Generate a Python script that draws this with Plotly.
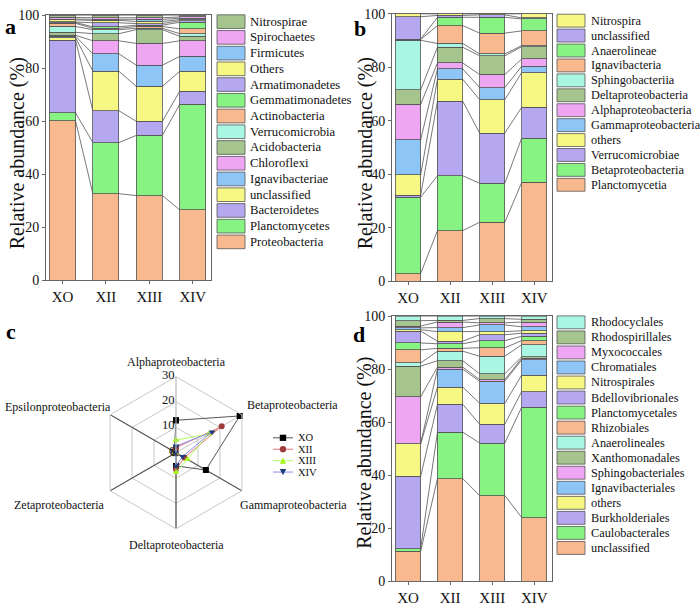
import plotly.graph_objects as go

# ---------------- data ----------------
samples = ["XO", "XII", "XIII", "XIV"]

a_taxa = ["Proteobacteria", "Planctomycetes", "Bacteroidetes", "unclassified", "Ignavibacteriae",
          "Chloroflexi", "Acidobacteria", "Verrucomicrobia", "Actinobacteria", "Gemmatimonadetes",
          "Armatimonadetes", "Others", "Firmicutes", "Spirochaetes", "Nitrospirae"]
a_XO = [60.1, 3.0, 27.5, 0.9, 0.5, 0.4, 1.1, 2.2, 1.2, 0.3, 0.2, 0.8, 0.3, 0.6, 0.9]
a_XII = [32.6, 19.3, 12.0, 14.9, 6.6, 4.9, 2.7, 1.5, 0.5, 0.6, 1.5, 0.9, 0.4, 0.6, 1.0]
a_XIII = [31.9, 22.7, 5.3, 13.2, 8.0, 8.2, 5.2, 0.5, 0.7, 0.5, 0.6, 0.8, 0.8, 0.6, 1.0]
a_XIV = [26.5, 39.8, 5.0, 7.5, 5.6, 5.9, 1.7, 1.0, 1.8, 2.5, 0.6, 0.4, 0.5, 0.5, 0.7]

b_taxa = ["Planctomycetia", "Betaproteobacteria", "Verrucomicrobiae", "others", "Gammaproteobacteria",
          "Alphaproteobacteria", "Deltaproteobacteria", "Sphingobacteriia", "Ignavibacteria",
          "Anaerolineae", "unclassified", "Nitrospira"]
b_XO = [2.8, 28.6, 0.7, 7.6, 13.1, 13.3, 5.4, 18.6, 0.3, 0.1, 8.4, 1.1]
b_XII = [18.9, 20.5, 27.9, 8.2, 3.9, 2.2, 5.9, 1.4, 6.7, 3.1, 0.7, 0.6]
b_XIII = [22.0, 14.6, 18.8, 12.5, 4.5, 4.9, 7.0, 0.7, 7.8, 5.9, 0.9, 0.4]
b_XIV = [36.9, 16.6, 11.5, 13.0, 2.4, 2.7, 4.6, 0.4, 5.5, 4.5, 0.4, 1.5]

d_taxa = ["unclassified", "Caulobacterales", "Burkholderiales", "others", "Ignavibacteriales",
          "Sphingobacteriales", "Xanthomonadales", "Anaerolineales", "Rhizobiales", "Planctomycetales",
          "Bdellovibrionales", "Nitrospirales", "Chromatiales", "Myxococcales", "Rhodospirillales",
          "Rhodocyclales"]
d_XO = [11.4, 1.0, 27.2, 12.3, 0.1, 17.6, 11.6, 1.2, 4.9, 2.6, 4.5, 0.5, 0.7, 0.7, 2.0, 1.7]
d_XII = [38.8, 17.5, 10.5, 6.5, 6.7, 0.8, 2.4, 3.6, 1.1, 1.7, 1.0, 3.6, 1.5, 2.1, 0.6, 1.6]
d_XIII = [32.4, 19.8, 7.1, 7.9, 8.3, 0.6, 2.2, 6.6, 3.2, 2.7, 2.2, 1.2, 2.5, 0.8, 1.6, 0.9]
d_XIV = [24.1, 41.6, 5.9, 6.2, 5.7, 0.6, 0.6, 4.5, 1.6, 1.6, 1.2, 0.9, 1.5, 1.8, 1.0, 1.2]

c_axes = ["Alphaproteobacteria", "Betaproteobacteria", "Gammaproteobacteria",
          "Deltaproteobacteria", "Zetaproteobacteria", "Epsilonproteobacteria"]
c_XO = [12.8, 29.0, 13.6, 5.2, 0.3, 0.8]
c_XII = [2.0, 20.8, 3.8, 6.5, 0.2, 0.5]
c_XIII = [5.0, 14.8, 5.2, 7.8, 0.2, 0.4]
c_XIV = [2.6, 16.4, 3.0, 5.2, 0.2, 0.4]
c_ticks = [0, 10, 20, 30]
c_dark_axes = ["Gammaproteobacteria", "Deltaproteobacteria", "Zetaproteobacteria", "Epsilonproteobacteria"]

y_ticks = [0, 20, 40, 60, 80, 100]

# ---------------- styles ----------------
palette = ["#F9B98E", "#86F383", "#B5A7F0", "#F7F783", "#8EC5F7", "#EEA5F2", "#A5C48E", "#A9F7E3"]
edge = "#555555"
FONT = "Liberation Serif, Times New Roman, serif"
W, H = 700, 609
BAR_W = 0.6


def px(x):
    return x / W


def py(y):
    return 1 - y / H


fig = go.Figure()

panels = [
    (a_taxa, [a_XO, a_XII, a_XIII, a_XIV], "x", "y", (46, 211), (8.3, 280),
     dict(x0=217, x1=245, tx=248, y0=15.0, dy=16.13, hh=7.0, fs=12.7)),
    (b_taxa, [b_XO, b_XII, b_XIII, b_XIV], "x2", "y2", (392, 552), (7, 281),
     dict(x0=557, x1=585, tx=588.5, y0=14.0, dy=15.3, hh=6.6, fs=12.3)),
    (d_taxa, [d_XO, d_XII, d_XIII, d_XIV], "x3", "y3", (392, 552), (317, 589),
     dict(x0=557, x1=585, tx=588.5, y0=323.3, dy=15.42, hh=6.6, fs=12.3)),
]

shapes = []
annotations = []
xpos = list(range(len(samples)))

for pi, (taxa, per_sample, xa, ya, xd, yd, lg) in enumerate(panels):
    n = len(taxa)
    for j in range(n):
        fig.add_trace(go.Bar(
            x=xpos, y=[per_sample[s][j] for s in range(len(samples))],
            width=BAR_W, name=taxa[j], xaxis=xa, yaxis=ya, showlegend=False,
            marker=dict(color=palette[j % 8], line=dict(color=edge, width=0.8)),
        ))
    lx, ly = [], []
    cum = [[0.0] * len(samples) for _ in range(n)]
    for s in range(len(samples)):
        acc = 0.0
        for j in range(n):
            acc += per_sample[s][j]
            cum[j][s] = acc
    for j in range(n):
        for s in range(len(samples) - 1):
            lx += [xpos[s] + BAR_W / 2, xpos[s + 1] - BAR_W / 2, None]
            ly += [cum[j][s], cum[j][s + 1], None]
    fig.add_trace(go.Scatter(x=lx, y=ly, mode="lines", xaxis=xa, yaxis=ya, showlegend=False,
                             line=dict(color=edge, width=0.8), hoverinfo="skip"))
    for k, j in enumerate(reversed(range(n))):
        yc = lg["y0"] + k * lg["dy"]
        shapes.append(dict(type="rect", xref="paper", yref="paper",
                           x0=px(lg["x0"]), x1=px(lg["x1"]),
                           y0=py(yc + lg["hh"]), y1=py(yc - lg["hh"]),
                           fillcolor=palette[j % 8], line=dict(color=edge, width=0.8)))
        annotations.append(dict(xref="paper", yref="paper", x=px(lg["tx"]), y=py(yc),
                                xanchor="left", yanchor="middle", showarrow=False,
                                text=taxa[j], font=dict(family=FONT, size=lg["fs"], color="#111")))

axis_common = dict(showline=True, mirror=True, linecolor="#666666", linewidth=1,
                   ticks="outside", ticklen=3, tickcolor="#666666", showgrid=False, zeroline=False)
layout_axes = {}
for pi, (taxa, per_sample, xa, ya, xd, yd, lg) in enumerate(panels):
    xk = "xaxis" if xa == "x" else "xaxis" + xa[1:]
    yk = "yaxis" if ya == "y" else "yaxis" + ya[1:]
    layout_axes[xk] = dict(axis_common, domain=[px(xd[0]), px(xd[1])], anchor=ya,
                           range=[-0.38, 3.42], tickvals=xpos, ticktext=samples,
                           tickfont=dict(family=FONT, size=15, color="#111"))
    layout_axes[yk] = dict(axis_common, domain=[py(yd[1]), py(yd[0])], anchor=xa,
                           range=[0, 100], tickvals=y_ticks,
                           tickfont=dict(family=FONT, size=14, color="#111"))

for (xc, yc) in [(17, 150), (365, 150), (365, 457)]:
    annotations.append(dict(xref="paper", yref="paper", x=px(xc), y=py(yc), textangle=-90,
                            xanchor="center", yanchor="middle", showarrow=False,
                            text="Relative abundance (%)", font=dict(family=FONT, size=20, color="#111")))

for (lab, xc, yc) in [("a", 10, 20), ("b", 360, 22), ("c", 11, 333), ("d", 359, 336)]:
    annotations.append(dict(xref="paper", yref="paper", x=px(xc), y=py(yc),
                            xanchor="center", yanchor="middle", showarrow=False,
                            text="<b>%s</b>" % lab, font=dict(family=FONT, size=22, color="#000")))

# ---------------- radar (c) ----------------
for cat in c_dark_axes:
    fig.add_trace(go.Scatterpolar(r=[c_ticks[0], c_ticks[-1]], theta=[cat, cat], mode="lines",
                                  line=dict(color="#555555", width=1.2), showlegend=False,
                                  hoverinfo="skip"))

radar_series = [
    ("XO", c_XO, "#555555", "#000000", "square"),
    ("XII", c_XII, "#E87878", "#9E3B3B", "circle"),
    ("XIII", c_XIII, "#B2FF66", "#A3F51A", "triangle-up"),
    ("XIV", c_XIV, "#8C8CEB", "#1F3C7A", "triangle-down"),
]
for name, vals, lc, mc, sym in radar_series:
    fig.add_trace(go.Scatterpolar(r=vals + vals[:1], theta=c_axes + c_axes[:1], name=name,
                                  mode="lines+markers", line=dict(color=lc, width=1),
                                  marker=dict(color=mc, symbol=sym, size=6), showlegend=False))

leg_y0, leg_dy = 441.7, 11.7
for k, (name, vals, lc, mc, sym) in enumerate(radar_series):
    yc = leg_y0 + k * leg_dy
    shapes.append(dict(type="line", xref="paper", yref="paper", x0=px(273), x1=px(293),
                       y0=py(yc), y1=py(yc), line=dict(color=lc, width=1)))
    cx = 283
    s = 3.2
    if sym == "square":
        shapes.append(dict(type="rect", xref="paper", yref="paper", x0=px(cx - s), x1=px(cx + s),
                           y0=py(yc + s), y1=py(yc - s), fillcolor=mc, line=dict(width=0)))
    elif sym == "circle":
        shapes.append(dict(type="circle", xref="paper", yref="paper", x0=px(cx - s), x1=px(cx + s),
                           y0=py(yc + s), y1=py(yc - s), fillcolor=mc, line=dict(width=0)))
    else:
        sgn = -1 if sym == "triangle-up" else 1
        pts = [(cx, yc + sgn * s), (cx - s, yc - sgn * s), (cx + s, yc - sgn * s)]
        path = "M %f %f L %f %f L %f %f Z" % tuple(v for p in pts for v in (px(p[0]), py(p[1])))
        shapes.append(dict(type="path", xref="paper", yref="paper", path=path,
                           fillcolor=mc, line=dict(width=0)))
    annotations.append(dict(xref="paper", yref="paper", x=px(296), y=py(yc), xanchor="left",
                            yanchor="middle", showarrow=False, text=name,
                            font=dict(family=FONT, size=10.5, color="#111")))

cx0, cy0, R = 176, 457, 78

c_label_pos = [(176, 363.5), (292, 408), (293.5, 511), (176, 551.5), (59, 511), (57.5, 410.5)]
for cat, (lx_, ly_) in zip(c_axes, c_label_pos):
    annotations.append(dict(xref="paper", yref="paper", x=px(lx_), y=py(ly_), xanchor="center",
                            yanchor="middle", showarrow=False, text=cat,
                            font=dict(family=FONT, size=12, color="#111")))
for t in c_ticks:
    annotations.append(dict(xref="paper", yref="paper", x=px(cx0 + 0.5),
                            y=py(cy0 - R * (t - c_ticks[0]) / (c_ticks[-1] - c_ticks[0]) - 2),
                            xanchor="right", yanchor="middle", showarrow=False, text=str(t),
                            font=dict(family=FONT, size=12.5, color="#111")))

polar = dict(
    domain=dict(x=[px(cx0 - R), px(cx0 + R)], y=[py(cy0 + R), py(cy0 - R)]),
    bgcolor="white",
    gridshape="linear",
    angularaxis=dict(direction="clockwise", rotation=90, categoryorder="array",
                     categoryarray=c_axes, showline=True, linecolor="#C8C8C8",
                     gridcolor="#C8C8C8", ticks="", showticklabels=False),
    radialaxis=dict(range=[c_ticks[0], c_ticks[-1]], tickvals=c_ticks, angle=90,
                    showline=True, linecolor="#C8C8C8",
                    gridcolor="#C8C8C8", ticks="", showticklabels=False),
)

fig.update_layout(
    width=W, height=H, autosize=False,
    margin=dict(l=0, r=0, t=0, b=0),
    paper_bgcolor="white", plot_bgcolor="white",
    barmode="stack", bargap=0.4,
    showlegend=False,
    polar=polar,
    shapes=shapes, annotations=annotations,
    font=dict(family=FONT, color="#111"),
    **layout_axes,
)

fig.write_html("out.html", config={"displayModeBar": False},
               post_script="document.body.style.margin='0';document.body.style.padding='0';")
